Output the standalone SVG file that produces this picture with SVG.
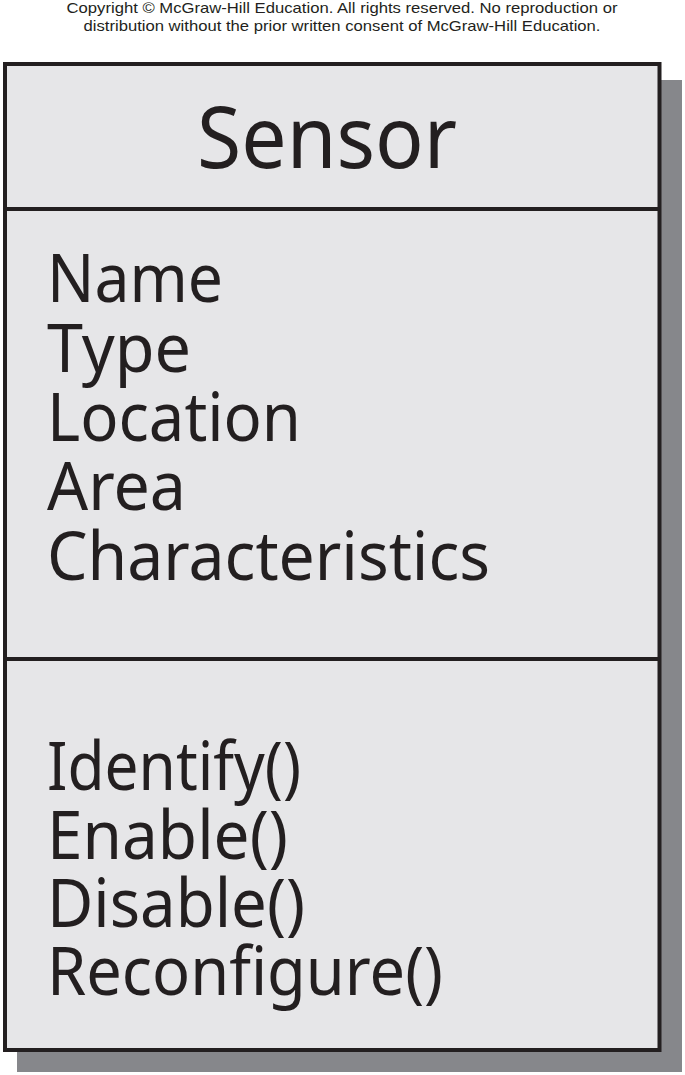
<svg xmlns="http://www.w3.org/2000/svg" width="685" height="1075" viewBox="0 0 685 1075">
<style>
.copy{font-family:"Liberation Sans",Arial,sans-serif;font-size:15px;fill:#231f20;text-anchor:middle}
.big{font-family:"Noto Sans","Open Sans",sans-serif;fill:#231f20}
.title{font-size:86px;text-anchor:middle}
.item{font-size:67px}
.line{stroke:#231f20;stroke-width:4;fill:none}
.box{stroke:#231f20;stroke-width:4;fill:#e6e6e8}
</style>
<rect width="685" height="1075" fill="#ffffff"/>
<text class="copy" x="342" y="13" textLength="551" lengthAdjust="spacingAndGlyphs">Copyright © McGraw-Hill Education. All rights reserved. No reproduction or</text>
<text class="copy" x="342" y="31" textLength="517" lengthAdjust="spacingAndGlyphs">distribution without the prior written consent of McGraw-Hill Education.</text>
<g id="sensor">
<rect x="17" y="80" width="665" height="992" fill="#86878b"/>
<rect class="box" x="5" y="64" width="654.5" height="986"/>
<line class="line" x1="5" y1="209" x2="659.5" y2="209"/>
<line class="line" x1="5" y1="659" x2="659.5" y2="659"/>
<text class="big title" x="327" y="168" textLength="260" lengthAdjust="spacingAndGlyphs">Sensor</text>
<g class="big item">
<text x="47" y="302" textLength="176" lengthAdjust="spacingAndGlyphs">Name</text>
<text x="47" y="372" textLength="144" lengthAdjust="spacingAndGlyphs">Type</text>
<text x="47" y="441" textLength="254" lengthAdjust="spacingAndGlyphs">Location</text>
<text x="47" y="510" textLength="139" lengthAdjust="spacingAndGlyphs">Area</text>
<text x="47" y="580" textLength="443" lengthAdjust="spacingAndGlyphs">Characteristics</text>
<text x="47" y="790" textLength="254" lengthAdjust="spacingAndGlyphs">Identify()</text>
<text x="47" y="859" textLength="241" lengthAdjust="spacingAndGlyphs">Enable()</text>
<text x="47" y="927" textLength="258" lengthAdjust="spacingAndGlyphs">Disable()</text>
<text x="47" y="995" textLength="396" lengthAdjust="spacingAndGlyphs">Reconfigure()</text>
</g>
</g>
<g id="connectors"/>
</svg>
